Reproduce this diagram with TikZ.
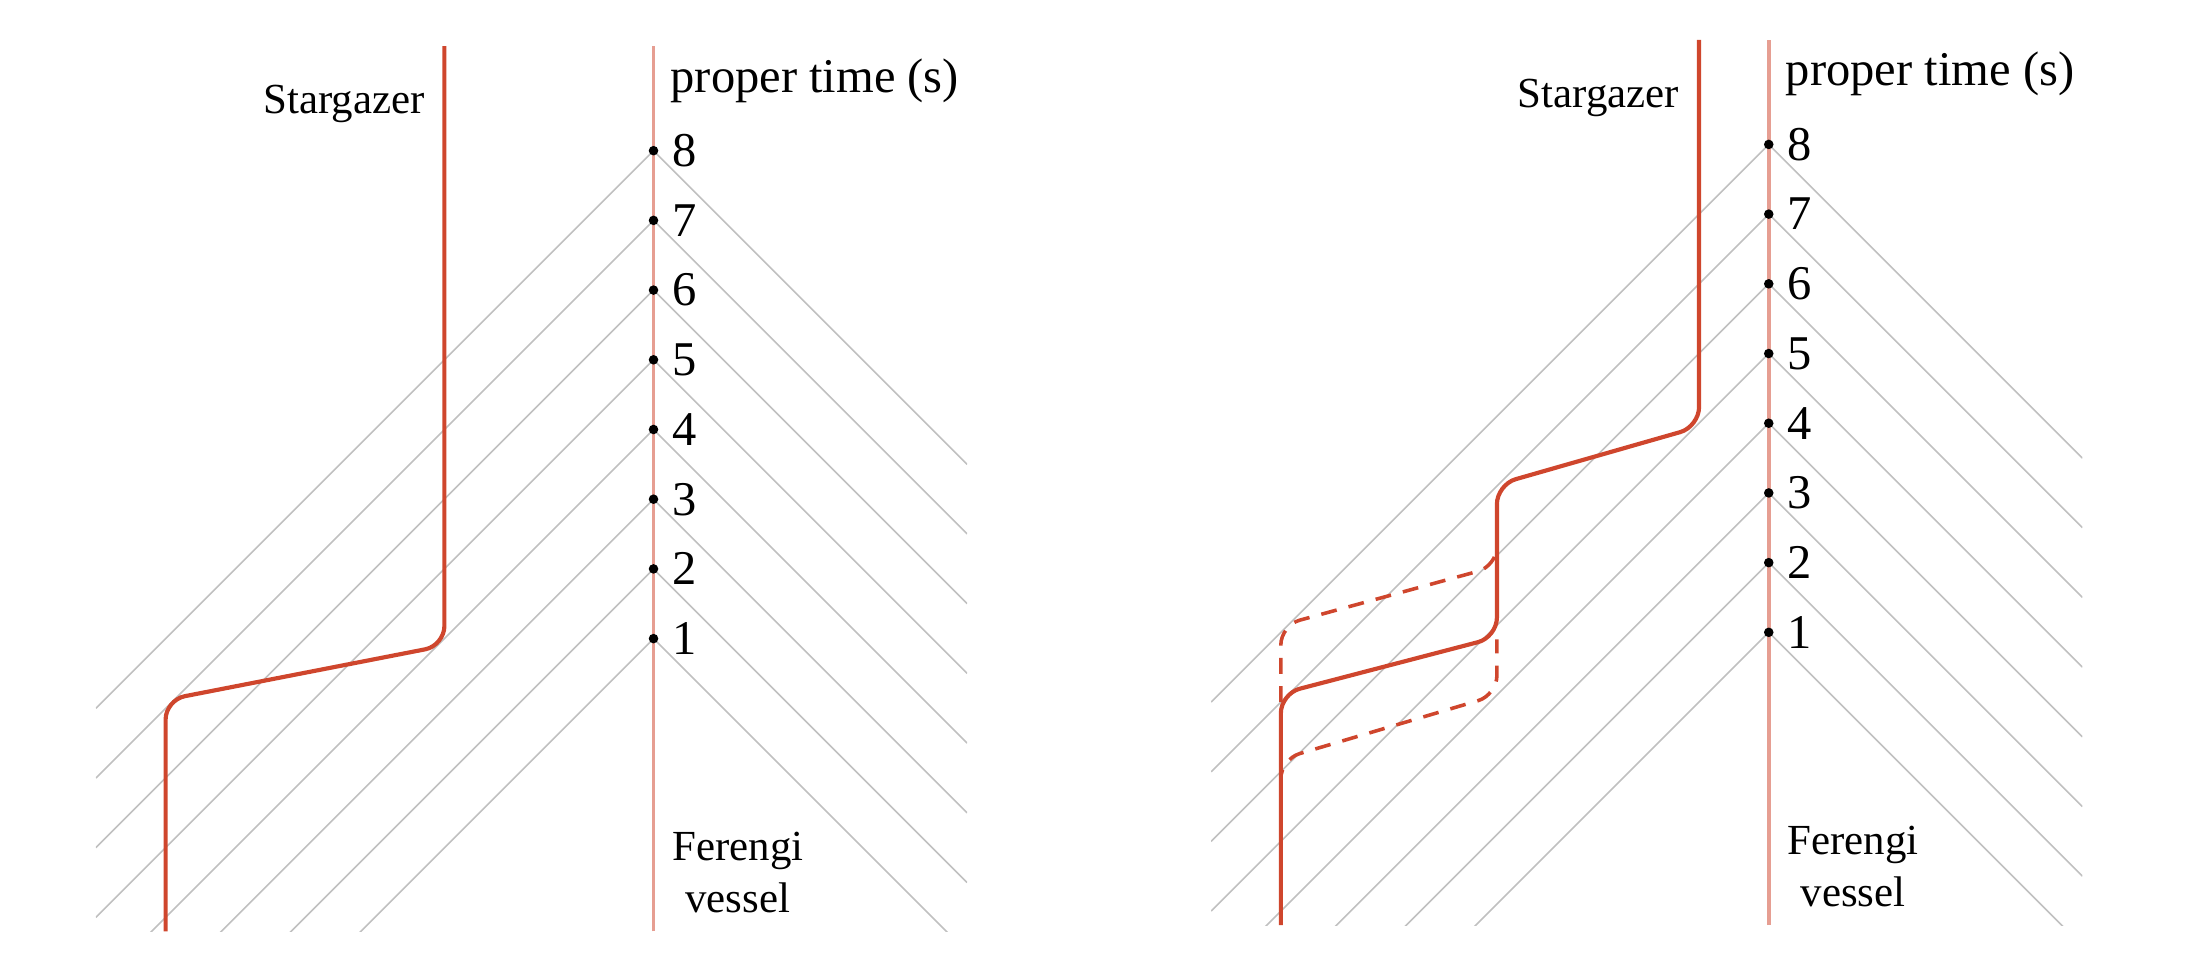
\documentclass[tikz,border=0pt]{standalone}
\usepackage{fontspec}
\setmainfont{Liberation Serif}
\definecolor{gazerred}{RGB}{207,70,45}
\definecolor{shippink}{RGB}{230,158,146}
\definecolor{conegray}{RGB}{192,192,192}

\begin{document}
\begin{tikzpicture}[gazer/.style={draw=gazerred,line width=1.7pt,rounded corners=0.28cm},
ghost/.style={gazer,line width=1.45pt,dash pattern=on 6.5pt off 5pt},
ship/.style={draw=shippink,line width=1.5pt},
ray/.style={draw=conegray,line width=0.65pt},
tick/.style={circle,fill=black,inner sep=0pt,minimum size=3.9pt},
big/.style={font=\fontsize{19.8}{24}\selectfont,inner sep=0pt},
small/.style={font=\fontsize{17.5}{21.3}\selectfont,inner sep=0pt}]
\useasboundingbox (-9.376,-3.626) rectangle (22.23,10.162);

% the two clocks of the Ferengi vessel, with their light rays
\foreach \p/\sx/\sy in {L/0/0,R/16/0.09}{
\begin{scope}[shift={(\sx,\sy)}]
\begin{scope}
\clip (-8,-3.2) rectangle (4.5,9.5);
\foreach \t in {1,...,8}
  \draw[ray] (-8,\t-8) -- (0,\t) -- (4.5,\t-4.5);
\end{scope}
\draw[ship] (0,-3.2) -- (0,9.5);
\foreach \t in {1,...,8}{
  \node[tick] (\p-d\t) at (0,\t) {};
  \node[big,anchor=west] (\p-n\t) at (0.26,\t) {\t};
}
\node[big,anchor=base west] (\p-time) at (0.24,8.84) {proper time (s)};
\node[small,anchor=north,align=center] (\p-ship) at (1.21,-1.77) {Ferengi\\vessel};
\end{scope}
}

% one jump
\draw[gazer] (-7,-3.2) -- (-7,0.12) -- (-3,0.9) -- (-3,9.5);
\node[small,anchor=base east] (L-gazer) at (-3.28,8.53) {Stargazer};

% two jumps
\begin{scope}[shift={(16,0.09)}]
\draw[ghost] (-7,0) -- (-7,1.1) -- (-3.9,1.95) -- (-3.9,2.6);
\draw[ghost] (-7,-1.6) -- (-7,-0.82) -- (-3.9,0.1) -- (-3.9,0.9);
\draw[gazer] (-7,-3.2) -- (-7,0.12) -- (-3.9,0.93) -- (-3.9,3.12) -- (-1,3.95) -- (-1,9.5);
\node[small,anchor=base east] (R-gazer) at (-1.28,8.53) {Stargazer};
\end{scope}
\end{tikzpicture}
\end{document}
